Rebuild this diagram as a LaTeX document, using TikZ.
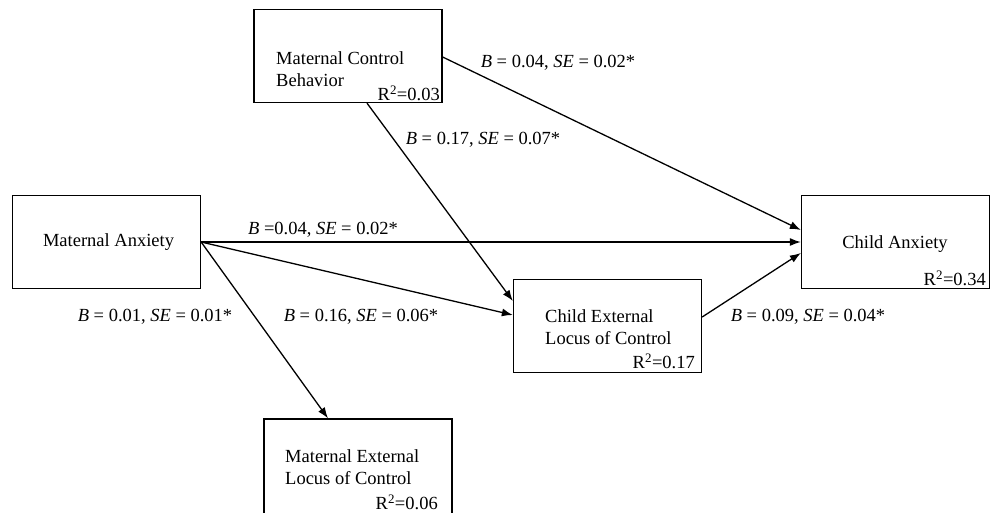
\documentclass[tikz,border=0pt]{standalone}
\usepackage{fontspec}
\setmainfont{Liberation Serif}
\usetikzlibrary{arrows.meta,calc}
\begin{document}
\begin{tikzpicture}[x=1pt,y=-1pt,
  box/.style={draw,line width=1.3pt,inner sep=0pt,minimum width=188pt,minimum height=93pt},
  txt/.style={font=\fontsize{18.5}{22}\selectfont,inner sep=0pt,align=left},
  rsq/.style={font=\fontsize{18.5}{22}\selectfont,inner sep=0pt,anchor=south east},
  conn/.style={line width=1.3pt,-{Latex[length=11pt,width=8pt]}},
  lab/.style={font=\fontsize{18.5}{22}\selectfont,inner sep=0pt}]
\clip (0,0) rectangle (992,512);
% boxes
\node[box] (mcb) at (348,56) {};
\node[box] (ma) at (106.5,242) {};
\node[box] (ca) at (895.5,242) {};
\node[box] (celc) at (607.5,326) {};
\node[box,minimum height=100pt] (melc) at (358,469) {};
% box texts
\node[txt,anchor=west] (mcbt) at (276,69) {Maternal Control\\Behavior};
\node[txt] (mat) at (108.5,242) {Maternal Anxiety};
\node[txt] (cat) at (895,244) {Child Anxiety};
\node[txt,anchor=west] (celct) at (545,327) {Child External\\Locus of Control};
\node[txt,anchor=west] (melct) at (285,467) {Maternal External\\Locus of Control};
% R squared
\node[rsq] (r1) at (440,101) {R\textsuperscript{2}=0.03};
\node[rsq] (r2) at (986,286) {R\textsuperscript{2}=0.34};
\node[rsq] (r3) at (695,369) {R\textsuperscript{2}=0.17};
\node[rsq] (r4) at (438,510) {R\textsuperscript{2}=0.06};
% connectors
\draw[conn] ([yshift=-1pt]mcb.east) -- ([yshift=12pt]ca.west);
\draw[conn] ([xshift=19pt]mcb.south) -- ([yshift=25pt]celc.west);
\draw[conn] (ma.east) -- (ca.west);
\draw[conn] (ma.east) -- ([yshift=11pt]celc.west);
\draw[conn] (ma.east) -- ([xshift=-30pt]melc.north);
\draw[conn] ([yshift=9pt]celc.east) -- ([yshift=-11pt]ca.west);
% labels
\node[lab] (l1) at (558,63) {\textit{B} = 0.04, \textit{SE} = 0.02*};
\node[lab] (l2) at (483,140) {\textit{B} = 0.17, \textit{SE} = 0.07*};
\node[lab] (l3) at (323,230) {\textit{B} =0.04, \textit{SE} = 0.02*};
\node[lab] (l4) at (155,317) {\textit{B} = 0.01, \textit{SE} = 0.01*};
\node[lab] (l5) at (361,317) {\textit{B} = 0.16, \textit{SE} = 0.06*};
\node[lab] (l6) at (808,317) {\textit{B} = 0.09, \textit{SE} = 0.04*};
\end{tikzpicture}
\end{document}
